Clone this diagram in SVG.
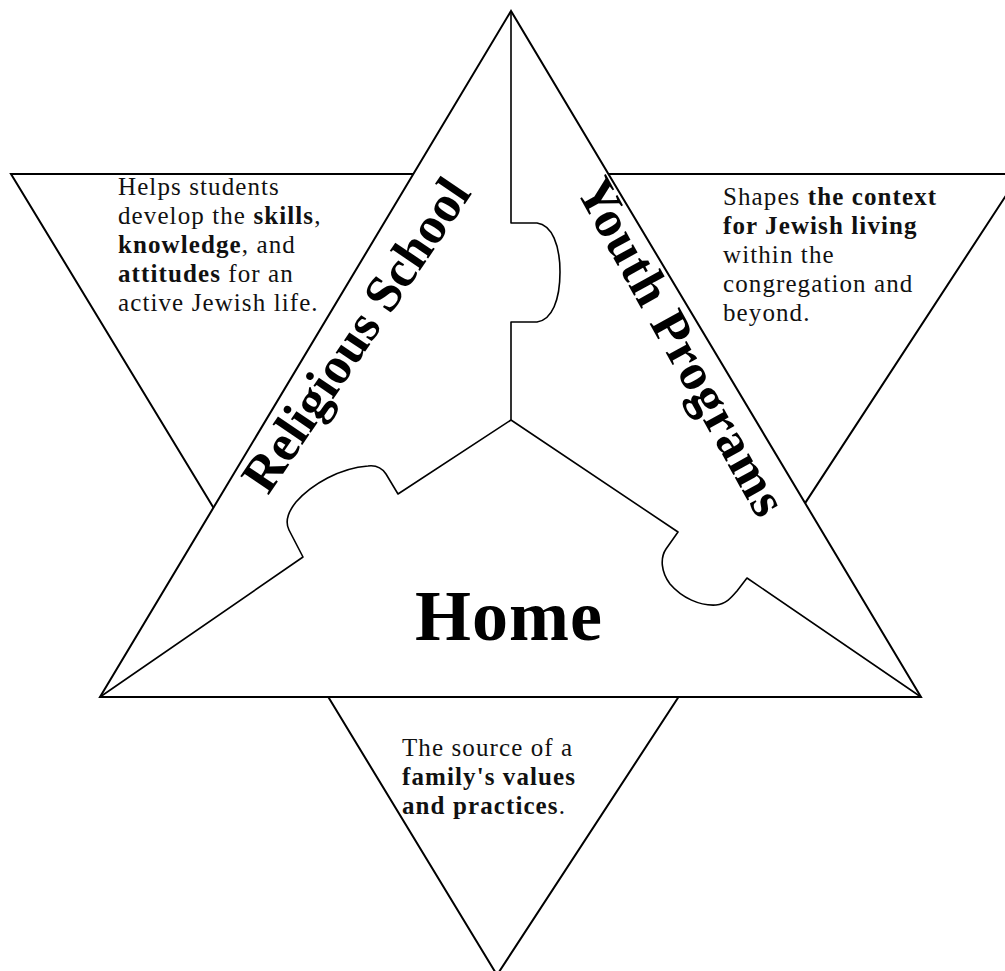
<svg xmlns="http://www.w3.org/2000/svg" width="1005" height="971" viewBox="0 0 1005 971">
<style>
.ln{fill:none;stroke:#000;stroke-width:2;stroke-linejoin:miter}
.pz{fill:none;stroke:#000;stroke-width:1.6;stroke-linejoin:round}
.t{font-family:"Liberation Serif","Times New Roman",serif;font-size:25px;letter-spacing:1.1px;fill:#111}
.b{font-weight:bold}
.lab{font-family:"Liberation Serif","Times New Roman",serif;font-weight:bold;font-size:52px;fill:#000}
</style>
<rect width="1005" height="971" fill="#fff"/>
<g id="connectors">
<polygon class="ln" points="511,11 100,697 921,697"/>
<polyline class="ln" points="413.3,174 11,174 213.5,507.7"/>
<polyline class="ln" points="608.4,174 1020,174 805.1,503.1"/>
<polyline class="ln" points="328.3,697 497,975 678.5,697"/>
<path class="pz" d="M511,11 L511,223 L537,223 C552,225 560,245 560,272 C560,300 552,320 537,322 L511,322 L511,420"/>
<path class="pz" d="M511,420 L678,532 L666,549 C660,558 661,572 670,584 C682,598 700,606 716,605 C726,604 731,598 737,591 L747,578 L921,697"/>
<path class="pz" d="M511,420 L398,494 L386,474 C382,468 376,465 368,466 C340,468 312,484 296,502 C288,512 285,522 289,530 L303,557 L100,697"/>
</g>
<g id="religious-school">
<text class="lab" transform="translate(356,335) rotate(-56)" text-anchor="middle" y="17">Religious School</text>
<text class="t" x="118" y="195">Helps students</text>
<text class="t" x="118" y="224">develop the <tspan class="b">skills</tspan>,</text>
<text class="t" x="118" y="253"><tspan class="b">knowledge</tspan>, and</text>
<text class="t" x="118" y="282"><tspan class="b">attitudes</tspan> for an</text>
<text class="t" x="118" y="311">active Jewish life.</text>
</g>
<g id="youth-programs">
<text class="lab" transform="translate(682,347) rotate(61)" text-anchor="middle" y="17" style="letter-spacing:1px">Youth Programs</text>
<text class="t" x="723" y="205">Shapes <tspan class="b">the context</tspan></text>
<text class="t" x="723" y="234"><tspan class="b">for Jewish living</tspan></text>
<text class="t" x="723" y="263">within the</text>
<text class="t" x="723" y="292">congregation and</text>
<text class="t" x="723" y="321">beyond.</text>
</g>
<g id="home">
<text x="509" y="640" text-anchor="middle" style="font-family:'Liberation Serif','Times New Roman',serif;font-weight:bold;font-size:72px;letter-spacing:1px">Home</text>
<text class="t" x="402" y="756">The source of a</text>
<text class="t" x="402" y="785"><tspan class="b">family's values</tspan></text>
<text class="t" x="402" y="814"><tspan class="b">and practices</tspan>.</text>
</g>
</svg>
